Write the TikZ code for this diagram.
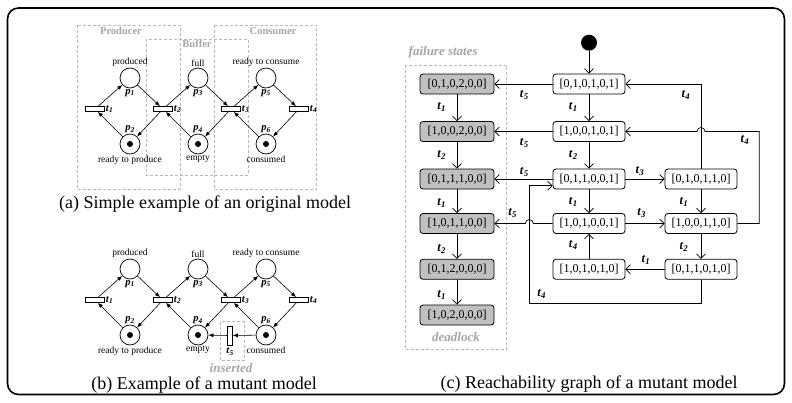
\documentclass[tikz,border=0pt]{standalone}
\usepackage{fontspec}
\setmainfont{Liberation Serif}
\usetikzlibrary{arrows.meta,calc}
\definecolor{dashgray}{RGB}{185,185,185}
\definecolor{txtgray}{RGB}{165,165,165}
\definecolor{failfill}{RGB}{192,192,192}
\newcommand\tlab[2]{\textbf{\textit{#1}}\textsubscript{\textbf{\textit{#2}}}}
\newcommand\pnet[2]{%
  \node[pplace,label={[plabel]above:produced},label={[pid]below:\tlab{p}{1}}] (#1p1) at (130,{78+#2}) {};
  \node[pplace,label={[plabel]above:full},label={[pid]below:\tlab{p}{3}}] (#1p3) at (198,{78+#2}) {};
  \node[pplace,label={[plabel]above:ready to consume},label={[pid]below:\tlab{p}{5}}] (#1p5) at (266,{78+#2}) {};
  \node[pplace,label={[plabel]below:ready to produce},label={[pid]above:\tlab{p}{2}}] (#1p2) at (130,{144+#2}) {};
  \node[pplace,label={[plabel]below:empty},label={[pid]above:\tlab{p}{4}}] (#1p4) at (198,{144+#2}) {};
  \node[pplace,label={[plabel]below:consumed},label={[pid]above:\tlab{p}{6}}] (#1p6) at (266,{144+#2}) {};
  \fill (#1p2) circle (3pt);
  \fill (#1p4) circle (3pt);
  \fill (#1p6) circle (3pt);
  \node[ptrans,label={[pid]right:\tlab{t}{1}}] (#1t1) at (95,{109+#2}) {};
  \node[ptrans,label={[pid]right:\tlab{t}{2}}] (#1t2) at (163,{109+#2}) {};
  \node[ptrans,label={[pid]right:\tlab{t}{3}}] (#1t3) at (231,{109+#2}) {};
  \node[ptrans,label={[pid]right:\tlab{t}{4}}] (#1t4) at (299,{109+#2}) {};
  \draw[parc] (#1t1) -- (#1p1);
  \draw[parc] (#1p1) -- (#1t2);
  \draw[parc] (#1t2) -- (#1p2);
  \draw[parc] (#1p2) -- (#1t1);
  \draw[parc] (#1t2) -- (#1p3);
  \draw[parc] (#1p3) -- (#1t3);
  \draw[parc] (#1t3) -- (#1p4);
  \draw[parc] (#1p4) -- (#1t2);
  \draw[parc] (#1t3) -- (#1p5);
  \draw[parc] (#1p5) -- (#1t4);
  \draw[parc] (#1t4) -- (#1p6);
  \draw[parc] (#1p6) -- (#1t3);
}
\begin{document}
\begin{tikzpicture}[x=1pt,y=-1pt,
  pplace/.style={circle,draw,line width=0.7pt,minimum size=20pt,inner sep=0pt,fill=white},
  ptrans/.style={rectangle,draw,line width=0.7pt,minimum width=19pt,minimum height=5pt,inner sep=0pt,fill=white},
  parc/.style={line width=0.6pt,-{Latex[length=5pt,width=4pt]}},
  plabel/.style={font=\fontsize{9.5}{10}\selectfont,inner sep=1pt},
  pid/.style={font=\fontsize{10.5}{11}\selectfont,inner sep=0.8pt},
  gdash/.style={draw=dashgray,line width=0.7pt,dash pattern=on 3pt off 2pt},
  gtitle/.style={text=txtgray,font=\fontsize{10.5}{11}\selectfont\bfseries,inner sep=0pt},
  gtext/.style={text=txtgray,font=\fontsize{13}{14}\selectfont\bfseries\itshape,inner sep=0pt},
  caption/.style={font=\fontsize{18}{20}\selectfont,inner sep=0pt},
  gstate/.style={draw,line width=0.8pt,rounded corners=3pt,minimum width=72pt,minimum height=20pt,inner sep=0pt,font=\fontsize{12}{13}\selectfont,fill=white},
  fstate/.style={gstate,fill=failfill,minimum width=74pt},
  gedge/.style={line width=0.7pt,-{Straight Barb[length=4.5pt,width=9pt]}},
  glab/.style={font=\fontsize{12.5}{13}\selectfont,inner sep=0pt}]
\useasboundingbox (0,0) rectangle (792,402);
\draw[line width=1.6pt,rounded corners=11pt] (7.5,8) rectangle (784.5,394.5);

% ---------- (a) original model ----------
\draw[gdash] (77.3,25) rectangle (180,189.3);
\draw[gdash] (146,39.3) rectangle (248.3,175);
\draw[gdash] (214,25) rectangle (316.7,189.3);
\node[gtitle] (prodlab) at (121,30.7) {Producer};
\node[gtitle] (buflab) at (197,44) {Buffer};
\node[gtitle] (conslab) at (273,30.7) {Consumer};
\pnet{a}{0}
\node[caption] (capa) at (205,204) {(a) Simple example of an original model};

% ---------- (b) mutant model ----------
\pnet{b}{191}
\draw[gdash] (220.7,321.7) rectangle (244,360.7);
\node[ptrans,minimum width=5pt,minimum height=19pt] (bt5) at (230,335.5) {};
\node[pid] (bt5lab) at (230,351.5) {\tlab{t}{5}};
\draw[parc] (bp6) -- (bt5);
\draw[parc] (bt5) -- (bp4);
\node[gtext] (inslab) at (231,368) {inserted};
\node[caption] (capb) at (204,385) {(b) Example of a mutant model};

% ---------- (c) reachability graph ----------
\draw[gdash] (405,65) rectangle (506.7,349.3);
\node[gtext,anchor=west] (faillab) at (408.5,52) {failure states};
\node[gtext] (deadlab) at (456,336.7) {deadlock};

\node[fstate] (F1) at (457,84) {[0,1,0,2,0,0]};
\node[fstate] (F2) at (457,131.5) {[1,0,0,2,0,0]};
\node[fstate] (F3) at (457,179) {[0,1,1,1,0,0]};
\node[fstate] (F4) at (457,223.5) {[1,0,1,1,0,0]};
\node[fstate] (F5) at (457,269.3) {[0,1,2,0,0,0]};
\node[fstate] (F6) at (457,315) {[1,0,2,0,0,0]};

\node[gstate] (M1) at (589,84) {[0,1,0,1,0,1]};
\node[gstate] (M2) at (589,131.5) {[1,0,0,1,0,1]};
\node[gstate] (M3) at (589,179) {[0,1,1,0,0,1]};
\node[gstate] (M4) at (589,223.5) {[1,0,1,0,0,1]};
\node[gstate] (M5) at (589,269.3) {[1,0,1,0,1,0]};

\node[gstate] (R1) at (701,179) {[0,1,0,1,1,0]};
\node[gstate] (R2) at (701,223.5) {[1,0,0,1,1,0]};
\node[gstate] (R3) at (701,269.3) {[0,1,1,0,1,0]};

\node[circle,fill,minimum size=16pt,inner sep=0pt] (init) at (589,42.7) {};

\draw[gedge] (init) -- (M1);
\draw[gedge] (M1) -- (M2);
\draw[gedge] (M2) -- (M3);
\draw[gedge] (M3) -- (M4);
\draw[gedge] (M5) -- (M4);
\draw[gedge] (F1) -- (F2);
\draw[gedge] (F2) -- (F3);
\draw[gedge] (F3) -- (F4);
\draw[gedge] (F4) -- (F5);
\draw[gedge] (F5) -- (F6);
\draw[gedge] (M1) -- (F1);
\draw[gedge] (M2) -- (F2);
\draw[gedge] (M3) -- (F3);
\draw[gedge] (M4.west) -- (533.3,223.5) arc (0:180:4pt) -- (F4.east);
\draw[gedge] (M3) -- (R1);
\draw[gedge] (M4) -- (R2);
\draw[gedge] (R1) -- (R2);
\draw[gedge] (R2) -- (R3);
\draw[gedge] (R3) -- (M5);
\draw[gedge] (R1.north) |- (M1.east);
\draw[gedge] (R2.east) -| (759.3,131.5) -- (705,131.5) arc (0:180:4pt) -- (M2.east);
\draw[gedge] (R3.south) |- (529.3,303.3) |- ($(M3.west)+(0,6.7)$);

\node[glab] at (441.7,106.7) {\tlab{t}{1}};
\node[glab] at (441.7,155) {\tlab{t}{2}};
\node[glab] at (441.7,203.3) {\tlab{t}{1}};
\node[glab] at (441.7,249.3) {\tlab{t}{2}};
\node[glab] at (441.7,295) {\tlab{t}{1}};
\node[glab] at (573.3,106.7) {\tlab{t}{1}};
\node[glab] at (573.3,155) {\tlab{t}{2}};
\node[glab] at (573.3,201.7) {\tlab{t}{1}};
\node[glab] at (573.3,245) {\tlab{t}{4}};
\node[glab] at (684,201.7) {\tlab{t}{1}};
\node[glab] at (684,247.3) {\tlab{t}{2}};
\node[glab] at (640,170.7) {\tlab{t}{3}};
\node[glab] at (641.7,213.3) {\tlab{t}{3}};
\node[glab] at (646,260) {\tlab{t}{1}};
\node[glab] at (686,95) {\tlab{t}{4}};
\node[glab] at (745,140) {\tlab{t}{4}};
\node[glab] at (541.7,294) {\tlab{t}{4}};
\node[glab] at (524.3,95) {\tlab{t}{5}};
\node[glab] at (524.3,143.3) {\tlab{t}{5}};
\node[glab] at (524.3,171.7) {\tlab{t}{5}};
\node[glab] at (512.7,212.7) {\tlab{t}{5}};

\node[caption] (capc) at (589,384) {(c) Reachability graph of a mutant model};
\end{tikzpicture}
\end{document}
